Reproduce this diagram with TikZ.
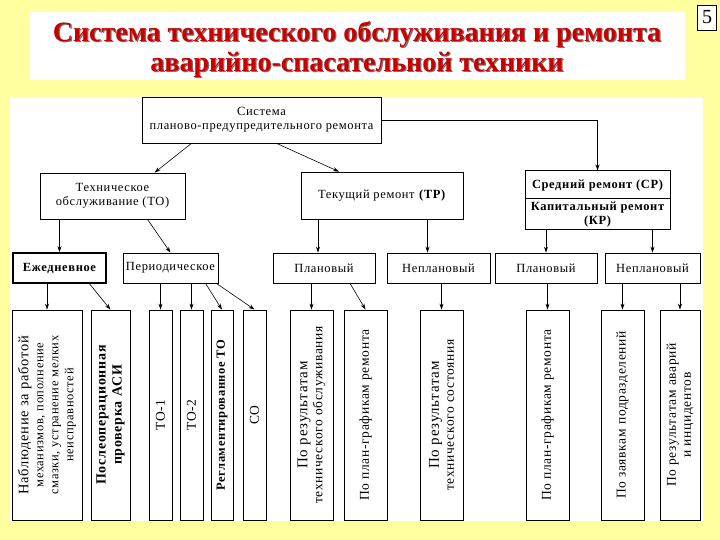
\documentclass[tikz,border=0pt]{standalone}
\usepackage{fontspec}
\setmainfont{Liberation Serif}
\newfontfamily\spaced[LetterSpace=5]{Liberation Serif}
\usetikzlibrary{arrows.meta}

\definecolor{slide}{RGB}{255,255,160}
\definecolor{titlered}{RGB}{200,0,0}

\begin{document}
\begin{tikzpicture}[x=1pt,y=-1pt,
    box/.style={draw, line width=0.7pt, fill=white, inner sep=1pt, align=center,
      font=\spaced\fontsize{12.5}{14}\selectfont},
    bbox/.style={box, font=\spaced\fontsize{12.5}{14}\selectfont\bfseries},
    vbox/.style={box, rotate=90, minimum width=210pt, line width=0.9pt,
      font=\spaced\fontsize{13.5}{15}\selectfont},
    lvl/.style={box, minimum height=30pt},
    title/.style={font=\fontsize{28}{30}\selectfont\bfseries, align=center},
    arr/.style={draw, line width=0.6pt, -{Stealth[length=6pt,width=4pt]}},
  ]
  \useasboundingbox (0,0) rectangle (720,540);
  \fill[slide] (0,0) rectangle (720,540);
  \fill[white] (10,97) rectangle (703,521);
  \fill[white] (30,12) rectangle (685,80);
  \node[title, text=black!55] (shadow) at (358.2,50.2)
    {Система технического обслуживания и ремонта\\аварийно-спасательной техники};
  \node[title, text=titlered] (title) at (357,49)
    {Система технического обслуживания и ремонта\\аварийно-спасательной техники};
  \node[draw, fill=white, minimum width=19pt, minimum height=25pt, inner sep=0pt,
    font=\fontsize{20}{20}\selectfont] (page) at (707,17.5) {5};

  \node[box, minimum width=239pt, minimum height=46pt] (sys) at (261.5,120)
    {Система\\планово-предупредительного ремонта};
  \node[box, minimum width=145pt, minimum height=46pt] (to) at (112.5,196)
    {Техническое\\обслуживание (ТО)};
  \node[box, minimum width=162pt, minimum height=47pt] (tr) at (382,195.5)
    {Текущий ремонт \textbf{(ТР)}};
  \node[bbox, line width=1pt, minimum width=145pt, minimum height=28pt] (sr) at (597.5,185)
    {Средний ремонт (СР)};
  \node[bbox, line width=1pt, minimum width=145pt, minimum height=31pt] (kr) at (597.5,214.5)
    {Капитальный ремонт\\(КР)};

  \node[lvl, bbox, line width=1.6pt, minimum width=93pt] (ezh) at (59.5,268) {Ежедневное};
  \node[lvl, minimum width=95pt] (per) at (170.5,268) {Периодическое};
  \node[lvl, minimum width=102pt] (pl1) at (324,268) {Плановый};
  \node[lvl, minimum width=103pt] (npl1) at (438.5,268) {Неплановый};
  \node[lvl, minimum width=102pt] (pl2) at (546,268) {Плановый};
  \node[lvl, minimum width=95pt] (npl2) at (652.5,268) {Неплановый};

  \node[vbox, minimum height=70pt, font=\spaced\fontsize{12.5}{15}\selectfont] (nab) at (47,415)
    {{\fontsize{14.5}{16}\selectfont Наблюдение за работой}\\механизмов, пополнение\\смазки, устранение мелких\\неисправностей};
  \node[vbox, bbox, font=\spaced\fontsize{14}{16}\selectfont\bfseries, minimum height=39pt] (posle) at (110.5,415)
    {Послеоперационная\\проверка АСИ};
  \node[vbox, minimum height=23pt] (to1) at (160.5,415) {ТО-1};
  \node[vbox, minimum height=23pt] (to2) at (191.5,415) {ТО-2};
  \node[vbox, bbox, minimum height=22pt] (reg) at (222,415) {Регламентированное ТО};
  \node[vbox, minimum height=23pt] (co) at (254.5,415) {СО};
  \node[vbox, minimum height=43pt] (prto) at (311.5,415)
    {{\fontsize{15}{16}\selectfont По результатам}\\технического обслуживания};
  \node[vbox, minimum height=43pt] (plg1) at (365.5,415) {По план-графикам ремонта};
  \node[vbox, minimum height=43pt] (prts) at (441.5,415)
    {{\fontsize{15}{16}\selectfont По результатам}\\технического состояния};
  \node[vbox, minimum height=43pt] (plg2) at (547.5,415) {По план-графикам ремонта};
  \node[vbox, minimum height=43pt] (zay) at (622.5,415) {По заявкам подразделений};
  \node[vbox, minimum height=40pt] (avar) at (680,415)
    {По результатам аварий\\и инцидентов};

  \draw[arr] ([xshift=-70pt]sys.south) -- ([xshift=42pt]to.north);
  \draw[arr] ([xshift=15pt]sys.south) -- ([xshift=-43pt]tr.north);
  \draw[arr] (sys.east) -| (sr.north);
  \draw[arr] (to.south -| ezh.north) -- (ezh.north);
  \draw[arr] ([xshift=35pt]to.south) -- (per.north);
  \draw[arr] ([xshift=-6pt]tr.south -| pl1.north) -- ([xshift=-6pt]pl1.north);
  \draw[arr] ([xshift=-11pt]tr.south -| npl1.north) -- ([xshift=-11pt]npl1.north);
  \draw[arr] (kr.south -| pl2.north) -- (pl2.north);
  \draw[arr] (kr.south -| npl2.north) -- (npl2.north);

  \draw[arr] (ezh.south -| nab.east) -- (nab.east);
  \draw[arr] ([xshift=30pt]ezh.south) -- (posle.east);
  \draw[arr] (per.south -| to1.east) -- (to1.east);
  \draw[arr] (per.south -| to2.east) -- (to2.east);
  \draw[arr] ([xshift=35pt]per.south) -- (reg.east);
  \draw[arr] ([xshift=-2pt]per.south east) -- (co.east);
  \draw[arr] (pl1.south -| prto.east) -- (prto.east);
  \draw[arr] ([xshift=26pt]pl1.south) -- (plg1.east);
  \draw[arr] (npl1.south -| prts.east) -- (prts.east);
  \draw[arr] (pl2.south -| plg2.east) -- (plg2.east);
  \draw[arr] (npl2.south -| zay.east) -- (zay.east);
  \draw[arr] (npl2.south -| avar.east) -- (avar.east);
\end{tikzpicture}
\end{document}
